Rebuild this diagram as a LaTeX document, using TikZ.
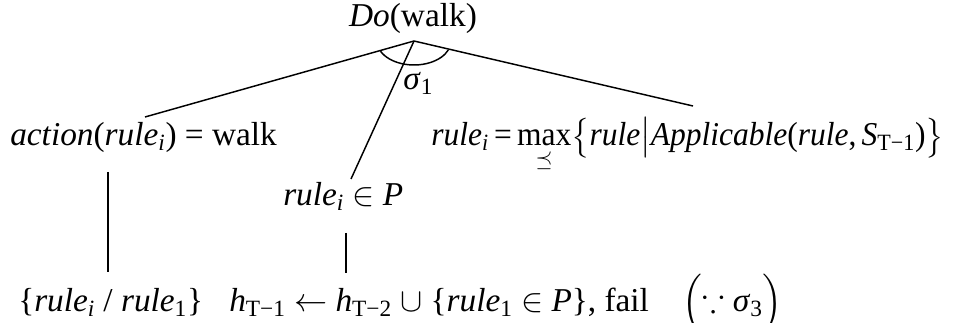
\documentclass[tikz,border=0pt]{standalone}
\usepackage{amsmath,amssymb}
\usepackage{graphicx}
\usepackage{fontspec}
\setmainfont{Liberation Serif}
\newcommand{\ti}[1]{\textit{#1}}
\newcommand{\sbx}[1]{\textsubscript{#1}}
\begin{document}
\begin{tikzpicture}[x=0.75pt,y=-0.75pt,
  lbl/.style={inner sep=0pt, anchor=base, font=\fontsize{25}{30}\selectfont},
  lblw/.style={lbl, anchor=base west},
  edge/.style={line width=1.1pt}]
\useasboundingbox (0,0) rectangle (969,323);

\node[lbl] (do) at (413,27) {\ti{Do}(walk)};
\coordinate (root) at (414,41);

\node[lblw] (sig) at (403,90) {\ti{σ}\sbx{1}};

\node[lblw] (act) at (10,146) {\ti{action}(\ti{rule}\sbx{\ti{i}}) = walk};
\node[lblw] (max) at (431,146) {\scalebox{0.945}[1]{\ti{rule}\sbx{\ti{i}}\,=\,$\underset{\preceq}{\text{max}}\big\{$\ti{rule}$\big|$\ti{Applicable}(\ti{rule},\,\ti{S}\sbx{T−1})$\big\}$}};
\node[lblw] (inp) at (283,206) {\ti{rule}\sbx{\ti{i}} $\in$ \ti{P}};

\node[lblw] (sub) at (18,312) {\{\ti{rule}\sbx{\ti{i}} / \ti{rule}\sbx{1}\}};
\node[lblw] (hist) at (229,312) {\ti{h}\sbx{T−1} $\leftarrow$ \ti{h}\sbx{T−2} $\cup$ \{\ti{rule}\sbx{1} $\in$ \ti{P}\}, fail\quad$\Bigl($$\because$ \ti{σ}\sbx{3}$\Bigr)$};

\coordinate (lend) at (145,117);
\coordinate (rend) at (693,106);
\coordinate (mend) at (351,179);
\coordinate (v1a) at (108,172);
\coordinate (v1b) at (108,272);
\coordinate (v2a) at (346,233);
\coordinate (v2b) at (346,273);

\draw[edge] (root) -- (lend);
\draw[edge] (root) -- (rend);
\draw[edge] (root) -- (mend);
\draw[edge] (v1a) -- (v1b);
\draw[edge] (v2a) -- (v2b);
\draw[edge] (root) ++(155:37 and 24) arc[start angle=155, end angle=22, x radius=37, y radius=24];
\end{tikzpicture}
\end{document}
